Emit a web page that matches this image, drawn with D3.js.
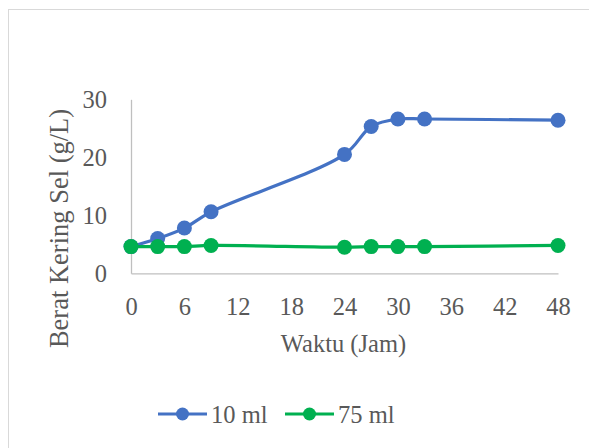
<!DOCTYPE html>
<html>
<head>
<meta charset="utf-8">
<script src="https://cdn.jsdelivr.net/npm/d3@7"></script>
<style>
  html, body { margin: 0; padding: 0; background: #ffffff; }
  svg { display: block; }
  svg text { font-family: "Liberation Serif", "Times New Roman", serif; }
</style>
</head>
<body>
<svg id="chart" width="589" height="448"></svg>
<script>
// Data
const hours = [0, 3, 6, 9, 24, 27, 30, 33, 48];
const seriesNames = ["10 ml", "75 ml"];
const values10ml = [4.6, 6.0, 7.8, 10.6, 20.5, 25.3, 26.6, 26.6, 26.4];
const values75ml = [4.6, 4.6, 4.6, 4.8, 4.5, 4.6, 4.6, 4.6, 4.8];
const seriesColors = ["#4472C4", "#00B050"];
const xTicks = [0, 6, 12, 18, 24, 30, 36, 42, 48];
const yTicks = [0, 10, 20, 30];
const xTitle = "Waktu (Jam)";
const yTitle = "Berat Kering Sel (g/L)";

const svg = d3.select("#chart");
const fontFam = '"Liberation Serif", "Times New Roman", serif';
const textColor = "#595959";

// Outer border
svg.append("rect")
  .attr("x", 8.5).attr("y", 9.5)
  .attr("width", 600).attr("height", 460)
  .attr("fill", "#ffffff")
  .attr("stroke", "#D9D9D9").attr("stroke-width", 1);

const x = d3.scaleLinear().domain([0, 48]).range([131, 558]);
const y = d3.scaleLinear().domain([0, 30]).range([273.3, 99.3]);

// Axes
const xAxis = d3.axisBottom(x).tickValues(xTicks).tickSize(0).tickPadding(27);
const yAxis = d3.axisLeft(y).tickValues(yTicks).tickSize(0).tickPadding(24);

const gx = svg.append("g").attr("transform", `translate(0,${y(0)})`).call(xAxis);
const gy = svg.append("g").attr("transform", `translate(${x(0)},0)`).call(yAxis);

[gx, gy].forEach(g => {
  g.attr("font-family", null).attr("font-size", null);
  g.select(".domain").attr("stroke", "#BFBFBF").attr("stroke-width", 1.3);
  g.selectAll("text")
    .style("font-family", fontFam)
    .style("font-size", "24.5px")
    .attr("fill", textColor);
});
gx.selectAll("text").attr("dy", null).attr("y", 42);
gy.selectAll("text").attr("dy", "0.33em");

// Axis titles
svg.append("text")
  .attr("x", (x(0) + x(48)) / 2 - 1)
  .attr("y", 352)
  .attr("text-anchor", "middle")
  .style("font-family", fontFam).style("font-size", "24.5px")
  .attr("fill", textColor)
  .text(xTitle);

svg.append("text")
  .attr("transform", "translate(67.5,228.5) rotate(-90)")
  .attr("text-anchor", "middle")
  .style("font-family", fontFam).style("font-size", "26.5px")
  .attr("fill", textColor)
  .text(yTitle);

// Series
const allSeries = [values10ml, values75ml];
const line = d3.line()
  .x((d, i) => x(hours[i]))
  .y(d => y(d))
  .curve(d3.curveCatmullRom.alpha(0.5));

allSeries.forEach((vals, si) => {
  const g = svg.append("g");
  g.append("path")
    .datum(vals)
    .attr("d", line)
    .attr("fill", "none")
    .attr("stroke", seriesColors[si])
    .attr("stroke-width", 3.2)
    .attr("stroke-linejoin", "round");
  g.selectAll("circle")
    .data(vals)
    .join("circle")
    .attr("cx", (d, i) => x(hours[i]))
    .attr("cy", d => y(d))
    .attr("r", 7.5)
    .attr("fill", seriesColors[si]);
});

// Legend
const legendItems = [
  { name: seriesNames[0], color: seriesColors[0], x0: 158 },
  { name: seriesNames[1], color: seriesColors[1], x0: 285 }
];
legendItems.forEach(it => {
  const g = svg.append("g");
  g.append("line")
    .attr("x1", it.x0).attr("x2", it.x0 + 49)
    .attr("y1", 414).attr("y2", 414)
    .attr("stroke", it.color).attr("stroke-width", 3.2);
  g.append("circle")
    .attr("cx", it.x0 + 24.5).attr("cy", 414).attr("r", 6.5)
    .attr("fill", it.color);
  g.append("text")
    .attr("x", it.x0 + 53).attr("y", 422.5)
    .style("font-family", fontFam).style("font-size", "24.5px")
    .attr("fill", textColor)
    .text(it.name);
});
</script>
</body>
</html>
